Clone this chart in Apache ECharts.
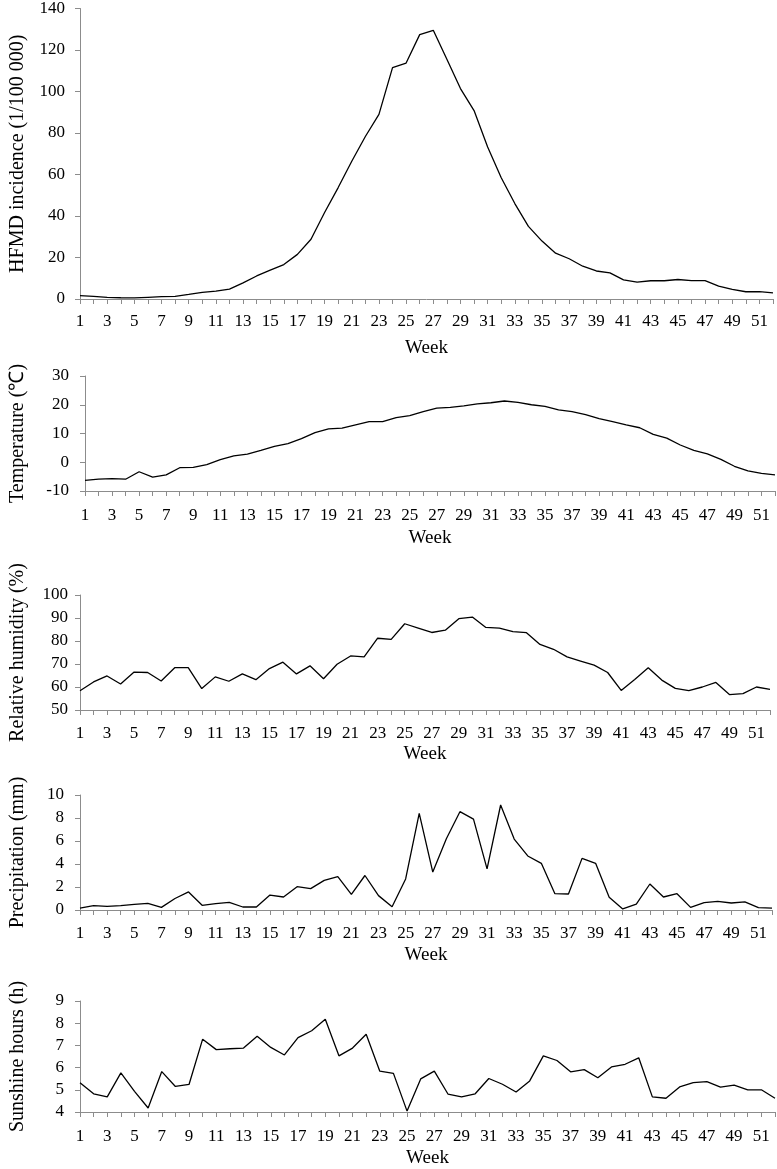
<!DOCTYPE html>
<html>
<head>
<meta charset="utf-8">
<script src="https://cdn.jsdelivr.net/npm/echarts@6/dist/echarts.min.js"></script>
<style>
html,body{margin:0;padding:0;background:#fff;}
#chart{width:777px;height:1169px;}
</style>
</head>
<body>
<div id="chart"></div>
<script>
var weeks = [];
for (var w = 1; w <= 52; w++) weeks.push(String(w));

var hfmd = [1.6,1.3,0.8,0.6,0.5,0.8,1.1,1.3,2.2,3.2,3.8,4.8,7.8,11.1,13.9,16.6,21.5,28.8,41.7,53.7,66.4,78.3,89.0,111.5,113.7,127.4,129.5,115.5,101.4,90.8,73.3,58.4,46.0,35.0,27.9,22.1,19.4,15.8,13.5,12.6,9.2,8.1,8.8,8.8,9.4,8.9,8.9,6.2,4.6,3.5,3.6,3.0];
var temperature = [-6.3,-5.9,-5.7,-5.9,-3.3,-5.2,-4.4,-1.9,-1.8,-0.8,0.9,2.2,2.8,4.1,5.5,6.5,8.2,10.3,11.6,11.9,13.0,14.1,14.1,15.5,16.2,17.6,18.8,19.1,19.6,20.3,20.7,21.3,20.8,20.0,19.4,18.2,17.6,16.6,15.2,14.1,13.0,12.0,9.7,8.4,6.0,4.1,2.9,1.0,-1.4,-3.0,-3.9,-4.4];
var humidity = [58.4,62.2,64.8,61.3,66.5,66.3,62.6,68.4,68.4,59.3,64.4,62.5,65.7,63.2,68.0,70.8,65.7,69.2,63.6,69.9,73.5,73.1,81.2,80.7,87.5,85.6,83.7,84.7,89.7,90.4,85.9,85.6,84.1,83.6,78.5,76.4,73.1,71.3,69.5,66.3,58.5,63.3,68.4,63.0,59.4,58.4,60.0,62.0,56.7,57.1,60.0,59.0];
var precipitation = [0.17,0.38,0.32,0.38,0.49,0.58,0.23,1.0,1.57,0.41,0.55,0.67,0.26,0.26,1.3,1.13,2.03,1.86,2.58,2.9,1.36,3.0,1.25,0.29,2.7,8.4,3.3,6.2,8.55,7.9,3.57,9.13,6.17,4.7,4.06,1.42,1.39,4.49,4.06,1.1,0.09,0.52,2.26,1.13,1.42,0.23,0.64,0.75,0.61,0.7,0.2,0.17];
var sunshine = [5.32,4.82,4.68,5.76,4.93,4.18,5.82,5.15,5.24,7.28,6.81,6.85,6.88,7.41,6.91,6.57,7.35,7.66,8.18,6.53,6.88,7.5,5.84,5.74,4.04,5.49,5.84,4.81,4.68,4.82,5.51,5.25,4.9,5.4,6.53,6.32,5.81,5.91,5.54,6.03,6.15,6.44,4.68,4.62,5.13,5.32,5.37,5.12,5.21,5.0,5.0,4.62];

var yNames = ['HFMD incidence (1/100 000)', 'Temperature (\u2103)', 'Relative humidity (%)', 'Precipitation (mm)', 'Sunshine hours (h)'];
var yMin = [0, -10, 50, 0, 4];
var yMax = [140, 30, 100, 10, 9];
var yInterval = [20, 10, 10, 2, 1];
var seriesData = [hfmd, temperature, humidity, precipitation, sunshine];

var grids = [
  {left: 76, right: 4, top: 6, height: 293},
  {left: 78, right: 2, top: 376, height: 115},
  {left: 73, right: 7, top: 595, height: 115},
  {left: 72, right: 5, top: 795, height: 115},
  {left: 73, right: 2, top: 1001, height: 113}
];
var xNameGap = [40, 38, 35, 36, 37];
var xLabelMargin = [14, 16, 15, 15, 16];
var yLabelMargin = [15, 16, 12, 16, 16];
var yNameGap = [52, 57, 52, 52, 52];

var FONT = '"Liberation Serif", "Times New Roman", serif';
var axisGrey = '#8c8c8c';

var option = {
  backgroundColor: '#fff',
  animation: false,
  grid: grids,
  xAxis: [], yAxis: [], series: []
};
for (var i = 0; i < 5; i++) {
  option.xAxis.push({
    type: 'category', gridIndex: i, data: weeks, boundaryGap: false, position: 'bottom',
    name: 'Week', nameLocation: 'middle', nameGap: xNameGap[i],
    nameTextStyle: {fontFamily: FONT, fontSize: 19, color: '#000'},
    axisLine: {onZero: false, lineStyle: {color: axisGrey, width: 1}},
    axisTick: {show: true, interval: 0, length: 5, lineStyle: {color: axisGrey}},
    axisLabel: {interval: 1, margin: xLabelMargin[i], fontFamily: FONT, fontSize: 17, color: '#000'},
    splitLine: {show: false}
  });
  option.yAxis.push({
    type: 'value', gridIndex: i, min: yMin[i], max: yMax[i], interval: yInterval[i],
    name: yNames[i], nameLocation: 'middle', nameGap: yNameGap[i], nameRotate: 90,
    nameTextStyle: {fontFamily: FONT, fontSize: 20, color: '#000'},
    axisLine: {show: true, onZero: false, lineStyle: {color: axisGrey, width: 1}},
    axisTick: {show: true, length: 5, lineStyle: {color: axisGrey}},
    axisLabel: {margin: yLabelMargin[i], fontFamily: FONT, fontSize: 17, color: '#000'},
    splitLine: {show: false}
  });
  option.series.push({
    type: 'line', xAxisIndex: i, yAxisIndex: i, data: seriesData[i],
    showSymbol: false, symbol: 'none',
    lineStyle: {color: '#000', width: 1.3}
  });
}
var chart = echarts.init(document.getElementById('chart'), null, {renderer: 'canvas'});
chart.setOption(option);
</script>
</body>
</html>
